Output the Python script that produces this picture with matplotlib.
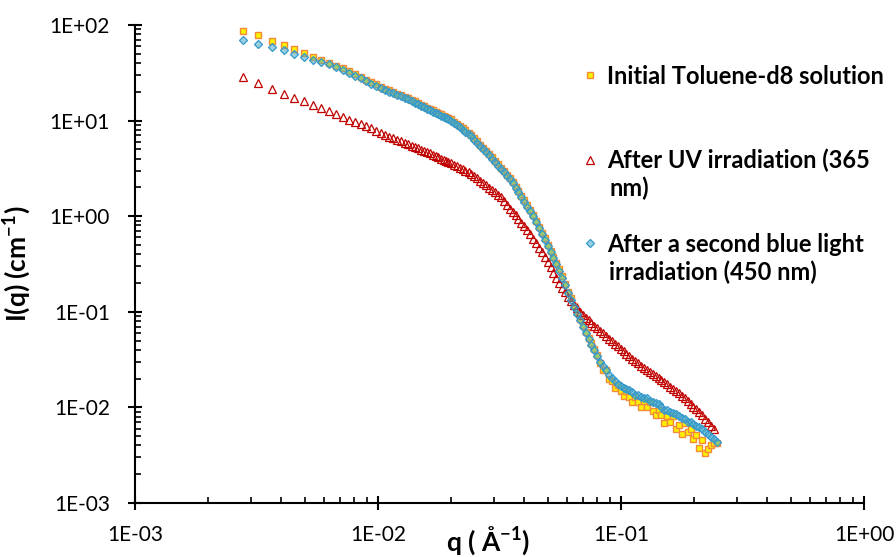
import matplotlib
matplotlib.use("Agg")
import matplotlib.pyplot as plt
from matplotlib.lines import Line2D
from matplotlib.ticker import FuncFormatter, LogLocator, NullFormatter

plt.rcParams['font.family'] = ['Lato', 'DejaVu Sans']
plt.rcParams['mathtext.fontset'] = 'custom'
plt.rcParams['mathtext.rm'] = 'Lato'
plt.rcParams['mathtext.bf'] = 'Lato:bold'

# scattering vector q (1/Angstrom), shared by the three runs
q = [0.00277, 0.00321, 0.00365, 0.00409, 0.00453, 0.00497, 0.00541, 0.00585, 0.00629, 0.00673,
     0.00717, 0.00761, 0.00805, 0.00849, 0.00893, 0.00937, 0.00981, 0.01025, 0.01069, 0.01113,
     0.01157, 0.01201, 0.01245, 0.01289, 0.01333, 0.01377, 0.01421, 0.01465, 0.01509, 0.01553,
     0.01597, 0.01641, 0.01685, 0.01729, 0.01773, 0.01817, 0.01861, 0.01905, 0.01949, 0.01993,
     0.0205, 0.0211, 0.0217, 0.0223, 0.0229, 0.0236, 0.0242, 0.0249, 0.0256, 0.0263,
     0.0271, 0.0278, 0.0286, 0.0294, 0.0303, 0.0311, 0.0320, 0.0329, 0.0338, 0.0348,
     0.0358, 0.0368, 0.0378, 0.0389, 0.0400, 0.0411, 0.0422, 0.0434, 0.0446, 0.0459,
     0.0472, 0.0485, 0.0499, 0.0513, 0.0527, 0.0542, 0.0557, 0.0573, 0.0589, 0.0605,
     0.0622, 0.0640, 0.0658, 0.0676, 0.0695, 0.0715, 0.0735, 0.0755, 0.0776, 0.0798,
     0.0821, 0.0844, 0.0867, 0.0892, 0.0917, 0.0942, 0.0969, 0.0996, 0.1024, 0.1053,
     0.1082, 0.1112, 0.1144, 0.1176, 0.1209, 0.1242, 0.1277, 0.1313, 0.1350, 0.1388,
     0.1427, 0.1467, 0.1508, 0.1550, 0.1593, 0.1638, 0.1684, 0.1731, 0.1779, 0.1829,
     0.1880, 0.1933, 0.1987, 0.2043, 0.2100, 0.2159, 0.2219, 0.2281, 0.2345, 0.2411,
     0.2478]

# I(q) in cm-1, initial toluene-d8 solution
i_initial = [86.5, 77.7, 68.0, 61.8, 56.1, 50.9, 46.8, 43.0, 40.5, 37.7,
             35.1, 32.8, 30.5, 28.4, 26.7, 25.1, 23.9, 22.7, 21.6, 20.7,
             19.9, 19.2, 18.4, 17.8, 17.2, 16.6, 15.9, 15.2, 14.7, 14.2,
             13.7, 13.3, 12.8, 12.4, 12.1, 11.6, 11.3, 10.97, 10.65, 10.3,
             9.74, 9.26, 8.79, 8.31, 7.90, 7.50, 7.03, 6.53, 6.07, 5.62,
             5.22, 4.86, 4.49, 4.12, 3.80, 3.49, 3.21, 2.97, 2.73, 2.51,
             2.27, 2.04, 1.83, 1.64, 1.46, 1.30, 1.15, 1.03, 0.89, 0.776,
             0.674, 0.585, 0.505, 0.434, 0.375, 0.322, 0.278, 0.235, 0.196, 0.163,
             0.138, 0.116, 0.0987, 0.0839, 0.0719, 0.0618, 0.0534, 0.0467, 0.0407, 0.0355,
             0.0292, 0.0248, 0.0244, 0.0197, 0.0191, 0.0161, 0.0173, 0.0147, 0.0132, 0.0147,
             0.0128, 0.0115, 0.0129, 0.0113, 0.0101, 0.0116, 0.0101, 0.0114, 0.0092, 0.0084,
             0.0095, 0.0083, 0.0068, 0.0082, 0.0070, 0.0082, 0.0060, 0.0065, 0.0053, 0.0068,
             0.0055, 0.0060, 0.0047, 0.0051, 0.0038, 0.0046, 0.0033, 0.0037, 0.0040, 0.0042,
             0.0042]

# after UV irradiation (365 nm)
i_uv = [28.9, 24.9, 21.5, 19.0, 17.2, 15.9, 14.7, 13.5, 12.5, 11.6,
        10.9, 10.2, 9.67, 9.15, 8.70, 8.27, 7.84, 7.46, 7.10, 6.79,
        6.51, 6.28, 6.06, 5.84, 5.65, 5.46, 5.29, 5.13, 4.97, 4.83,
        4.69, 4.56, 4.41, 4.27, 4.14, 4.01, 3.89, 3.78, 3.67, 3.57,
        3.44, 3.32, 3.21, 3.09, 2.98, 2.89, 2.76, 2.62, 2.48, 2.35,
        2.22, 2.10, 1.98, 1.87, 1.77, 1.67, 1.57, 1.44, 1.31, 1.20,
        1.11, 1.02, 0.933, 0.855, 0.786, 0.721, 0.648, 0.583, 0.522, 0.468,
        0.418, 0.372, 0.330, 0.291, 0.257, 0.227, 0.200, 0.179, 0.160, 0.144,
        0.130, 0.119, 0.109, 0.0990, 0.0923, 0.0868, 0.0815, 0.0765, 0.0717, 0.0674,
        0.0633, 0.0594, 0.0560, 0.0524, 0.0493, 0.0464, 0.0436, 0.0410, 0.0385, 0.0362,
        0.0341, 0.0321, 0.0303, 0.0288, 0.0274, 0.0260, 0.0247, 0.0235, 0.0223, 0.0213,
        0.0202, 0.0193, 0.0183, 0.0174, 0.0165, 0.0156, 0.0148, 0.0140, 0.0133, 0.0125,
        0.0116, 0.0109, 0.0102, 0.00955, 0.00891, 0.00823, 0.00760, 0.00702, 0.00646, 0.00597]

# after a second blue light irradiation (450 nm)
i_blue = [69.7, 64.0, 58.9, 54.2, 50.3, 46.6, 43.4, 41.0, 39.1, 36.8,
          34.1, 31.8, 29.6, 27.6, 25.9, 24.4, 23.2, 22.0, 21.0, 20.1,
          19.3, 18.6, 17.9, 17.3, 16.7, 16.1, 15.4, 14.8, 14.3, 13.8,
          13.3, 12.9, 12.4, 12.0, 11.7, 11.3, 10.96, 10.65, 10.34, 10.0,
          9.46, 8.99, 8.53, 8.07, 7.67, 7.28, 6.83, 6.34, 5.89, 5.46,
          5.07, 4.72, 4.36, 4.00, 3.69, 3.39, 3.12, 2.88, 2.65, 2.44,
          2.20, 1.98, 1.78, 1.59, 1.42, 1.26, 1.12, 0.998, 0.865, 0.753,
          0.654, 0.568, 0.490, 0.421, 0.364, 0.313, 0.270, 0.228, 0.190, 0.158,
          0.134, 0.113, 0.0958, 0.0815, 0.0698, 0.0600, 0.0518, 0.0453, 0.0395, 0.0345,
          0.0301, 0.0270, 0.0244, 0.0219, 0.0201, 0.0189, 0.0177, 0.0167, 0.0161, 0.0155,
          0.0152, 0.0144, 0.0136, 0.0134, 0.0130, 0.0126, 0.0125, 0.0118, 0.0115, 0.0110,
          0.0109, 0.0101, 0.0095, 0.00935, 0.00897, 0.00868, 0.0086, 0.00813, 0.00784, 0.00760,
          0.0071, 0.00702, 0.00671, 0.00642, 0.0063, 0.00589, 0.00558, 0.00526, 0.00494, 0.00465,
          0.00438]

labels = ['Initial Toluene-d8 solution', 'After UV irradiation (365\nnm)',
          'After a second blue light\nirradiation (450 nm)']

sq_style = dict(ls='none', marker='s', ms=5, mfc='#FFF200', mec='#F28A3A', mew=1.0)
tri_style = dict(ls='none', marker='^', ms=6, mfc='none', mec='#C00000', mew=0.9)
dia_style = dict(ls='none', marker='D', ms=4, mfc=(0.29, 0.67, 0.78, 0.55), mec='#3399CC', mew=0.9)

fig = plt.figure(figsize=(8.96, 5.57), dpi=100)
ax = fig.add_axes([135 / 896, 1 - 503 / 557, 729 / 896, 478 / 557])

ax.plot(q, i_initial, **sq_style)
ax.plot(q[:len(i_uv)], i_uv, **tri_style)
ax.plot(q, i_blue, **dia_style)

ax.set_xscale('log')
ax.set_yscale('log')
ax.set_xlim(1e-3, 1)
ax.set_ylim(1e-3, 1e2)

fmt = FuncFormatter(lambda v, pos: f'{v:.0E}')
for axis in (ax.xaxis, ax.yaxis):
    axis.set_major_locator(LogLocator(base=10, numticks=10))
    axis.set_minor_locator(LogLocator(base=10, subs=range(2, 10), numticks=10))
    axis.set_major_formatter(fmt)
    axis.set_minor_formatter(NullFormatter())

ax.tick_params(which='major', direction='inout', length=10, width=1.5, labelsize=15, color='black')
ax.tick_params(axis='y', which='major', pad=13)
ax.tick_params(axis='x', which='major', pad=11)
ax.tick_params(which='minor', direction='in', length=4.5, width=1.2)

for side in ('top', 'right'):
    ax.spines[side].set_visible(False)
for side in ('left', 'bottom'):
    ax.spines[side].set_linewidth(1.5)

ax.set_ylabel(r'I(q) (cm$^{\mathbf{-1}}$)', fontsize=19, fontweight='bold')
ax.yaxis.set_label_coords(-0.14, 0.5)
ax.set_xlabel(r'q ( Å$^{\mathbf{-1}}$)', fontsize=19, fontweight='bold')
ax.xaxis.set_label_coords(0.485, -0.045)

# legend: one entry per run, marker beside the first line of text
styles = [sq_style, tri_style, dia_style]
entry_y = [76, 160, 244]
for style, label, y in zip(styles, labels, entry_y):
    first, *rest = label.split('\n')
    handle = Line2D([], [], **style)
    fig.legend([handle], [first], loc='center left', bbox_to_anchor=(578 / 896, 1 - y / 557),
               frameon=False, borderpad=0, borderaxespad=0, handlelength=1.0,
               handletextpad=0.22, prop=dict(size=17, weight='bold'))
    for n, line in enumerate(rest, start=1):
        fig.text(609 / 896, 1 - (y + 28 * n) / 557, line, fontsize=17, fontweight='bold',
                 va='center', ha='left')

fig.savefig('out.png', dpi=100)
